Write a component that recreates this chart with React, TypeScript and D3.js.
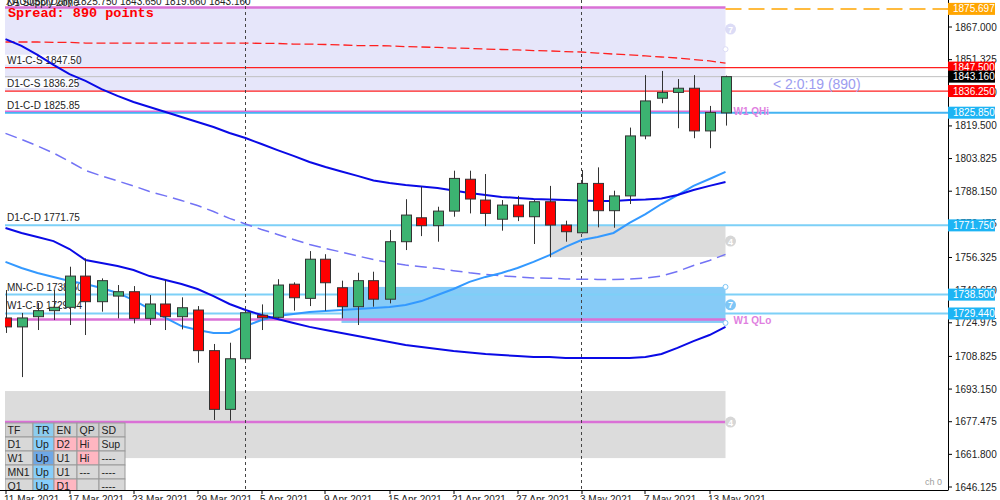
import React from 'react';
import * as d3 from 'd3';

const dates = [
  '2021-03-11','2021-03-12','2021-03-15','2021-03-16','2021-03-17','2021-03-18','2021-03-19','2021-03-22','2021-03-23','2021-03-24',
  '2021-03-25','2021-03-26','2021-03-29','2021-03-30','2021-03-31','2021-04-01','2021-04-05','2021-04-06','2021-04-07','2021-04-08',
  '2021-04-09','2021-04-12','2021-04-13','2021-04-14','2021-04-15','2021-04-16','2021-04-19','2021-04-20','2021-04-21','2021-04-22',
  '2021-04-23','2021-04-26','2021-04-27','2021-04-28','2021-04-29','2021-04-30','2021-05-03','2021-05-04','2021-05-05','2021-05-06',
  '2021-05-07','2021-05-10','2021-05-11','2021-05-12','2021-05-13','2021-05-14'];

const opens = [1727.3,1723.0,1727.9,1730.8,1732.4,1747.4,1735.1,1737.8,1739.9,1727.1,1734.0,1727.9,1731.1,1711.6,1683.4,1707.7,1728.6,1727.6,1743.5,1736.7,1755.5,1741.8,1732.7,1745.2,1736.3,1763.9,1775.4,1771.6,1778.6,1793.9,1783.9,1774.7,1781.5,1775.9,1783.1,1771.9,1768.2,1791.9,1778.8,1785.9,1814.7,1832.8,1835.6,1837.6,1817.1,1825.75];
const highs = [1740.7,1729.7,1734.5,1740.7,1751.9,1755.9,1746.3,1743.1,1742.6,1738.3,1745.5,1737.2,1733.0,1714.8,1715.4,1731.1,1733.8,1745.9,1744.4,1759.4,1757.9,1745.2,1749.0,1749.5,1769.5,1784.3,1790.3,1780.7,1798.0,1798.0,1796.4,1783.9,1785.9,1783.9,1790.7,1774.0,1798.3,1799.6,1788.4,1818.7,1843.9,1845.9,1842.0,1843.9,1829.1,1843.65];
const lows = [1720.1,1698.9,1721.5,1726.3,1723.9,1719.1,1730.3,1727.1,1724.7,1723.9,1721.5,1721.8,1705.8,1678.3,1678.0,1706.6,1721.5,1727.1,1730.8,1733.0,1730.8,1727.1,1723.9,1732.7,1734.3,1759.9,1766.6,1763.9,1775.9,1777.5,1771.4,1769.2,1773.8,1762.8,1756.4,1763.9,1767.9,1770.8,1770.6,1782.0,1813.1,1830.4,1818.4,1813.6,1808.8,1819.66];
const closes = [1723.0,1727.3,1730.8,1732.4,1747.4,1735.1,1745.2,1739.9,1727.1,1734.0,1727.9,1732.2,1711.6,1683.4,1707.7,1729.8,1727.4,1743.1,1737.0,1755.5,1744.2,1732.7,1745.2,1736.3,1763.9,1776.7,1771.6,1778.6,1794.3,1784.4,1777.5,1781.5,1775.9,1783.1,1771.9,1768.7,1791.9,1778.8,1785.9,1814.7,1831.5,1835.6,1837.6,1817.1,1826.0,1843.16];

const bbUpper = [1861.2,1857.9,1853.6,1848.8,1844.4,1841.1,1837.2,1833.9,1831.0,1828.6,1826.2,1823.8,1821.4,1819.0,1816.1,1813.7,1810.8,1807.9,1805.1,1802.2,1799.8,1797.6,1795.5,1793.3,1792.1,1791.1,1790.4,1789.7,1788.5,1787.3,1786.3,1785.4,1784.9,1784.4,1784.2,1783.9,1783.7,1783.5,1783.5,1783.9,1784.2,1784.7,1786.3,1788.7,1790.7,1792.6];
const bbMiddle = [1815.9,1813.0,1809.9,1806.5,1802.4,1798.1,1795.5,1793.1,1790.7,1788.0,1785.9,1783.7,1781.3,1778.4,1775.1,1772.4,1769.8,1767.4,1765.0,1762.6,1760.7,1758.9,1757.1,1755.3,1753.9,1752.7,1751.9,1751.1,1750.0,1749.0,1748.2,1747.5,1747.0,1746.5,1746.4,1746.0,1745.9,1745.8,1745.8,1746.0,1746.4,1747.4,1749.6,1752.5,1754.9,1757.8];
const bbLower = [1770.5,1768.1,1766.2,1764.2,1760.4,1755.1,1753.7,1752.2,1750.3,1747.4,1745.5,1743.6,1741.2,1737.8,1734.0,1731.1,1728.7,1726.8,1724.9,1723.0,1721.5,1720.1,1718.6,1717.2,1715.7,1714.3,1713.3,1712.4,1711.4,1710.7,1710.0,1709.5,1709.0,1708.5,1708.5,1708.1,1708.1,1708.1,1708.1,1708.1,1708.5,1710.0,1712.9,1716.2,1719.1,1723.0];
const maFast = [1754.2,1751.3,1748.9,1747.0,1745.0,1743.6,1741.7,1739.3,1735.9,1731.6,1727.3,1723.4,1721.5,1720.1,1720.1,1723.4,1726.3,1728.2,1729.2,1730.2,1730.6,1731.1,1731.6,1732.1,1732.6,1733.5,1735.4,1738.3,1741.2,1744.6,1747.0,1748.9,1751.3,1754.2,1757.5,1761.4,1764.7,1766.2,1768.1,1772.9,1777.2,1782.0,1786.3,1790.7,1794.0,1797.4];
const maSlow = [1859.8,1859.8,1859.8,1859.6,1859.6,1859.3,1859.3,1859.3,1859.3,1859.3,1859.3,1859.3,1859.3,1859.3,1859.3,1859.3,1859.1,1859.1,1858.8,1858.8,1858.6,1858.4,1858.1,1858.1,1857.9,1857.6,1857.4,1857.2,1856.9,1856.7,1856.4,1856.2,1856.0,1855.7,1855.5,1855.2,1855.0,1854.5,1854.0,1853.6,1853.1,1852.6,1852.1,1851.4,1850.7,1849.7];

const priceTicks = [1867.0,1851.325,1835.65,1819.5,1803.825,1788.15,1772.475,1756.325,1740.65,1724.975,1708.825,1693.15,1677.475,1661.8,1646.125];

const levelNames = ['W1-C-S','D1-C-S','D1-C-D','D1-C-D','MN-C-D','W1-C-D'];
const levelPrices = [1847.50,1836.25,1825.85,1771.75,1738.50,1729.44];
const levelKinds = ['S','S','D','D','D','D'];

const zoneKinds = ['supply','gray','blue','gray'];
const zoneTops = [1876.4,1771.75,1742.2,1692.2];
const zoneBottoms = [1836.25,1756.6,1724.9,1660.0];
const zoneStartIdx = [-1,34,21,-1];
const zoneIconText = ['7','4','7','4'];
const zoneIconPrice = [1866.0,1764.2,1733.6,1677.3];

const quarterNames = ['', 'W1 QHi', 'W1 QLo', ''];
const quarterPrices = [1876.4, 1826.6, 1726.5, 1677.3];

const projectionLevel = 1875.697;
const bidPrice = 1843.16;
const separatorIdx = [15, 36];

const tableHeader = ['TF','TR','EN','QP','SD'];
const tableRows = [
  ['D1','Up','D2','Hi','Sup'],
  ['W1','Up','U1','Hi','----'],
  ['MN1','Up','U1','---','----'],
  ['Q1','Up','D1','','----'],
];

const GREEN = '#3CB371';
const RED = '#FF0000';
const FONT = "'Liberation Sans', Arial, sans-serif";

export default function App() {
  const ys = d3.scaleLinear().domain([1646.125, 1867]).range([487, 27]);
  const xs = d3.scaleLinear().domain([0, dates.length - 1]).range([5.5, 725.5]);
  const parse = d3.timeParse('%Y-%m-%d');
  const fmt = d3.timeFormat('%-d %b %Y');
  const zoneRight = xs(dates.length - 1);
  const plotRight = 948;

  const line = d3.line<number>().x((_, i) => xs(i)).y(d => ys(d));

  const zoneFill: Record<string, string> = { supply: '#E6E6FA', gray: '#DCDCDC', blue: '#86CBF7' };
  const iconFill: Record<string, string> = { supply: '#DCDCF6', gray: '#D6D6D6', blue: '#7EC6F6' };

  const colX = [5, 33, 54, 77, 99, 125];
  const rowY0 = 423;
  const rowH = 14;
  const cellColor = (r: number, c: number, v: string) => {
    if (r === -1) return c === 1 ? '#8CCDF0' : '#D0D0D0';
    if (c === 1) return r === 1 ? '#6FA8E6' : '#87CEFA';
    if ((c === 2 && v.startsWith('D')) || (c === 3 && v === 'Hi')) return '#FFB6C1';
    return '#D8D8D8';
  };

  const levelLabel = (name: string, p: number) => `${name} ${p.toFixed(2)}`;

  return (
    <svg width={1000} height={500} style={{ position: 'absolute', left: 0, top: 0, background: '#fff' }} fontFamily={FONT}>
      <defs>
        <clipPath id="plot"><rect x={5} y={0} width={plotRight - 5} height={490} /></clipPath>
      </defs>
      <rect x={0} y={0} width={1000} height={500} fill="#fff" />
      <g clipPath="url(#plot)">
        {zoneKinds.map((k, i) => {
          const x0 = zoneStartIdx[i] < 0 ? 0 : xs(zoneStartIdx[i]);
          return <rect key={'z' + i} x={x0} y={ys(zoneTops[i])} width={zoneRight - x0} height={ys(zoneBottoms[i]) - ys(zoneTops[i])} fill={zoneFill[k]} />;
        })}
        {/* level lines */}
        <line x1={0} x2={plotRight} y1={ys(bidPrice)} y2={ys(bidPrice)} stroke="#C0C0C0" strokeWidth={1} />
        {levelPrices.map((p, i) => (
          <line key={'l' + i} x1={0} x2={plotRight} y1={ys(p)} y2={ys(p)}
            stroke={levelKinds[i] === 'S' ? '#FF2020' : (i === 2 ? '#45B4F2' : '#7DD0F7')} strokeWidth={levelKinds[i] === 'S' ? 1.2 : 2} />
        ))}
        {quarterPrices.map((p, i) => (
          <line key={'q' + i} x1={0} x2={zoneRight} y1={ys(p)} y2={ys(p)} stroke="#DA70D6" strokeWidth={i === 1 ? 1.5 : 2.5} />
        ))}
        <line x1={zoneRight} x2={plotRight} y1={ys(projectionLevel)} y2={ys(projectionLevel)} stroke="#FFA500" strokeWidth={1.5} strokeDasharray="16,7" />
        {separatorIdx.map(i => (
          <line key={'s' + i} x1={xs(i)} x2={xs(i)} y1={0} y2={490} stroke="#444" strokeWidth={1} strokeDasharray="3,3" />
        ))}
        {/* left labels */}
        {levelPrices.map((p, i) => {
          const t = levelLabel(levelNames[i], p);
          return (
            <g key={'ll' + i}>
              <rect x={5} y={ys(p) - 13} width={t.length * 5 + 2} height={10} fill="#fff" opacity={0.85} />
              <text x={7} y={ys(p) - 4} fontSize={10} fill="#222">{t}</text>
            </g>
          );
        })}
        {/* indicators */}
        <path d={line(maSlow) || ''} fill="none" stroke="#FF2020" strokeWidth={1.3} strokeDasharray="9,4" />
        <path d={line(bbMiddle) || ''} fill="none" stroke="#7373F5" strokeWidth={1.5} strokeDasharray="12,6" />
        <path d={line(maFast) || ''} fill="none" stroke="#3399FF" strokeWidth={2} />
        <path d={line(bbUpper) || ''} fill="none" stroke="#0A0AE6" strokeWidth={2} />
        <path d={line(bbLower) || ''} fill="none" stroke="#0A0AE6" strokeWidth={2} />
        {/* candles */}
        {dates.map((d, i) => {
          const cx = Math.round(xs(i)) + 0.5;
          const up = closes[i] >= opens[i];
          const top = ys(Math.max(opens[i], closes[i]));
          const bot = ys(Math.min(opens[i], closes[i]));
          return (
            <g key={d}>
              <line x1={cx} x2={cx} y1={ys(highs[i])} y2={ys(lows[i])} stroke="#333" strokeWidth={1} />
              <rect x={cx - 5} y={top} width={10} height={Math.max(1, bot - top)} fill={up ? GREEN : RED} stroke="#333" strokeWidth={1} />
            </g>
          );
        })}
        {/* zone icons */}
        {zoneKinds.map((k, i) => (
          <g key={'zi' + i}>
            <circle cx={zoneRight + 5} cy={ys(zoneIconPrice[i])} r={5.5} fill={iconFill[k]} />
            <text x={zoneRight + 5} y={ys(zoneIconPrice[i]) + 3.5} fontSize={9} fontWeight="bold" fill="#fff" textAnchor="middle">{zoneIconText[i]}</text>
          </g>
        ))}
        {[zoneTops[2], zoneBottoms[2]].map((p, i) => (
          <circle key={'hc' + i} cx={zoneRight} cy={ys(p)} r={2.5} fill="#fff" stroke="#7EC6F6" strokeWidth={1} />
        ))}
        <circle cx={zoneRight} cy={ys((zoneTops[0] + zoneBottoms[0]) / 2)} r={2.5} fill="#fff" stroke="#DCDCF6" strokeWidth={1} />
        {/* quarter labels */}
        {quarterNames.map((n, i) => n ? (
          <text key={'qn' + i} x={zoneRight + 8} y={ys(quarterPrices[i]) + 4} fontSize={10} fontWeight="bold" fill="#E07FE0">{n}</text>
        ) : null)}
        <text x={773} y={ys(bidPrice) + 12} fontSize={14} fill="#9C9CF0">{'< 2:0:19 (890)'}</text>
        {/* table */}
        {[tableHeader, ...tableRows].map((row, r) => row.map((v, c) => (
          <g key={'t' + r + '-' + c}>
            <rect x={colX[c]} y={rowY0 + r * rowH} width={colX[c + 1] - colX[c]} height={rowH} fill={cellColor(r - 1, c, v)} stroke="#9A9A9A" strokeWidth={1} />
            <text x={colX[c] + 2.5} y={rowY0 + r * rowH + 11} fontSize={10.5} fill="#222">{v}</text>
          </g>
        )))}
      </g>
      {/* title & spread */}
      <text x={6} y={5} fontSize={10} fill="#222">XAUUSD,Daily  1825.750 1843.650 1819.660 1843.160</text>
      <text x={7} y={6} fontSize={10} fill="#222">D1 Supply Zone</text>
      <text x={8} y={17} fontSize={13.5} fontWeight="bold" fill="#FF0000" fontFamily="'Liberation Mono', 'Courier New', monospace">Spread: 890 points</text>
      <text x={925} y={485} fontSize={9} fill="#A0A0A0">ch 0</text>
      {/* axes */}
      <line x1={plotRight + 0.5} x2={plotRight + 0.5} y1={0} y2={490} stroke="#000" />
      <line x1={0} x2={plotRight + 0.5} y1={490.5} y2={490.5} stroke="#000" />
      {priceTicks.map(t => (
        <g key={'pt' + t}>
          <line x1={plotRight} x2={plotRight + 4} y1={ys(t)} y2={ys(t)} stroke="#000" />
          <text x={955} y={ys(t) + 3.5} fontSize={10} fill="#222">{t.toFixed(3)}</text>
        </g>
      ))}
      {dates.map((d, i) => i % 4 === 0 ? (
        <g key={'dt' + i}>
          <line x1={Math.round(xs(i))} x2={Math.round(xs(i))} y1={490} y2={494} stroke="#000" />
          <text x={xs(i) - 1.5} y={503} fontSize={10} fill="#222">{fmt(parse(d) as Date)}</text>
        </g>
      ) : null)}
      {/* right price labels */}
      {[
        { p: projectionLevel, bg: '#FFA500' },
        ...levelPrices.map((p, i) => ({ p, bg: levelKinds[i] === 'S' ? '#FF0000' : '#1DB4F4' })),
        { p: bidPrice, bg: '#000' },
      ].map((o, i) => (
        <g key={'rl' + i}>
          <rect x={plotRight} y={ys(o.p) - 6} width={47} height={12} fill={o.bg} />
          <text x={953} y={ys(o.p) + 3.5} fontSize={10} fill="#fff">{o.p.toFixed(3)}</text>
        </g>
      ))}
    </svg>
  );
}
